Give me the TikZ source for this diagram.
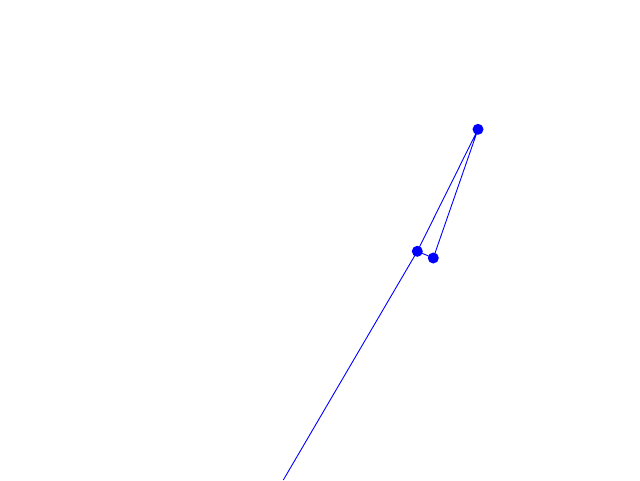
\documentclass[tikz,border=0pt]{standalone}
\begin{document}
\begin{tikzpicture}[x=1pt,y=-1pt,
  dot/.style={circle,fill=blue,inner sep=0pt,minimum size=11pt},
  edge/.style={blue,line width=0.9pt}]
\useasboundingbox (0,0) rectangle (640,480);
\node[dot] (a) at (478,129.3) {};
\node[dot] (b) at (417.3,251.3) {};
\node[dot] (c) at (433.3,258) {};
\coordinate (e) at (283.3,480);
\draw[edge] (a.center) -- (b.center) -- (c.center) -- (a.center);
\draw[edge] (b.center) -- (e);
\end{tikzpicture}
\end{document}
